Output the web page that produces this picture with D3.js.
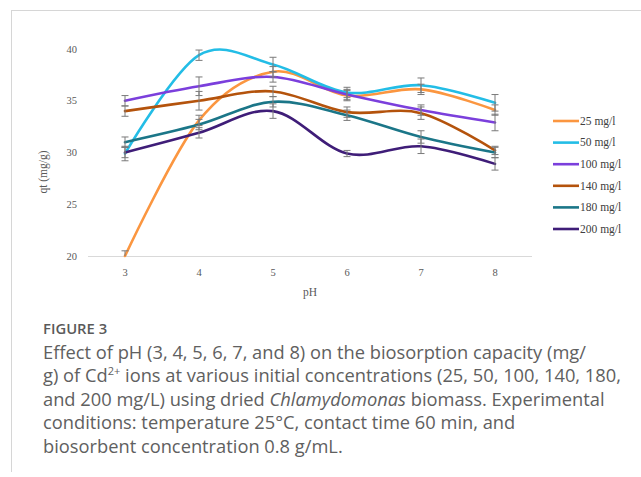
<!DOCTYPE html>
<html>
<head>
<meta charset="utf-8">
<script src="https://cdn.jsdelivr.net/npm/d3@7"></script>
<style>
  html, body { margin: 0; padding: 0; background: #fff; }
  svg { display: block; }
</style>
</head>
<body>
<svg id="chart" width="641" height="477"></svg>
<script>
// pH levels tested
const phValues = [3, 4, 5, 6, 7, 8];

// Initial Cd2+ concentrations (legend labels)
const seriesNames = ["25 mg/l", "50 mg/l", "100 mg/l", "140 mg/l", "180 mg/l", "200 mg/l"];
const seriesColors = ["#fb9640", "#23bde6", "#7b3fdc", "#b4530c", "#1b7688", "#3f1d78"];

// Biosorption capacity qt (mg/g) for each concentration, at pH 3..8
const qt25  = [20.0, 33.1, 37.8, 35.5, 36.1, 34.1];
const qt50  = [29.9, 39.4, 38.5, 35.8, 36.5, 34.8];
const qt100 = [35.0, 36.4, 37.3, 35.6, 34.1, 32.9];
const qt140 = [34.0, 35.0, 35.9, 33.9, 33.8, 30.2];
const qt180 = [31.0, 32.7, 34.9, 33.6, 31.5, 30.0];
const qt200 = [30.0, 31.9, 34.0, 29.9, 30.6, 28.9];

// Standard deviations (error bars)
const sd25  = [0.5, 0.5, 0.5, 0.5, 0.5, 0.5];
const sd50  = [0.7, 0.5, 0.7, 0.5, 0.7, 0.8];
const sd100 = [0.5, 0.9, 0.5, 0.5, 0.5, 0.8];
const sd140 = [0.5, 0.9, 0.5, 0.5, 0.6, 0.4];
const sd180 = [0.5, 0.5, 0.5, 0.5, 0.6, 0.5];
const sd200 = [0.5, 0.5, 0.7, 0.3, 0.7, 0.6];

const yTicks = [20, 25, 30, 35, 40];

const seriesValues = [qt25, qt50, qt100, qt140, qt180, qt200];
const seriesSd = [sd25, sd50, sd100, sd140, sd180, sd200];

const series = seriesNames.map((name, i) => ({
  name,
  color: seriesColors[i],
  points: phValues.map((ph, j) => ({ ph, v: seriesValues[i][j], sd: seriesSd[i][j] }))
}));

const svg = d3.select("#chart");

// Outer frame (top and left rules)
svg.append("line").attr("x1", 11).attr("x2", 641).attr("y1", 10.5).attr("y2", 10.5)
  .attr("stroke", "#d6d6d6").attr("stroke-width", 1);
svg.append("line").attr("x1", 11.5).attr("x2", 11.5).attr("y1", 10).attr("y2", 472)
  .attr("stroke", "#d6d6d6").attr("stroke-width", 1);

const x = d3.scaleLinear().domain([2.5, 8.5]).range([88, 532]);
const y = d3.scaleLinear().domain([20, 40]).range([256, 49]);

const serif = "'Liberation Serif', 'DejaVu Serif', serif";

// X axis baseline
svg.append("line").attr("x1", x(2.5)).attr("x2", x(8.5)).attr("y1", y(20) + 0.5).attr("y2", y(20) + 0.5)
  .attr("stroke", "#d9d9d9").attr("stroke-width", 1);

// X tick labels
svg.append("g").selectAll("text").data(phValues).join("text")
  .attr("x", d => x(d)).attr("y", 276)
  .attr("text-anchor", "middle")
  .attr("font-family", serif).attr("font-size", 10.5).attr("fill", "#595959")
  .text(d => d);

// Y tick labels
svg.append("g").selectAll("text").data(yTicks).join("text")
  .attr("x", 77).attr("y", d => y(d) + 3.5)
  .attr("text-anchor", "end")
  .attr("font-family", serif).attr("font-size", 10.5).attr("fill", "#595959")
  .text(d => d);

// Axis titles
svg.append("text").attr("x", 310).attr("y", 296)
  .attr("text-anchor", "middle").attr("font-family", serif).attr("font-size", 11.5).attr("fill", "#595959")
  .text("pH");
svg.append("text").attr("transform", "translate(47,172) rotate(-90)")
  .attr("text-anchor", "middle").attr("font-family", serif).attr("font-size", 11.5).attr("fill", "#595959")
  .text("qt (mg/g)");

// Smoothed series lines
const line = d3.line()
  .x(d => x(d.ph)).y(d => y(d.v))
  .curve(d3.curveCatmullRom.alpha(0));

svg.append("g").selectAll("path").data(series).join("path")
  .attr("d", d => line(d.points))
  .attr("fill", "none")
  .attr("stroke", d => d.color)
  .attr("stroke-width", 2.6)
  .attr("stroke-linecap", "round");

// Error bars
const capW = 3.5;
const eb = svg.append("g").attr("stroke", "#7a7a7a").attr("stroke-width", 1).attr("fill", "none");
series.forEach(s => {
  s.points.forEach(p => {
    const cx = x(p.ph);
    const top = y(p.v + p.sd), bot = y(Math.max(20, p.v - p.sd));
    eb.append("line").attr("x1", cx).attr("x2", cx).attr("y1", top).attr("y2", bot);
    eb.append("line").attr("x1", cx - capW).attr("x2", cx + capW).attr("y1", top).attr("y2", top);
    if (p.v - p.sd >= 20) {
      eb.append("line").attr("x1", cx - capW).attr("x2", cx + capW).attr("y1", bot).attr("y2", bot);
    }
  });
});

// Legend
const legend = svg.append("g").selectAll("g").data(series).join("g")
  .attr("transform", (d, i) => `translate(553, ${121 + i * 21.6})`);
legend.append("line").attr("x1", 0).attr("x2", 26).attr("y1", 0).attr("y2", 0)
  .attr("stroke", d => d.color).attr("stroke-width", 2.6);
legend.append("text").attr("x", 27).attr("y", 3.8)
  .attr("font-family", serif).attr("font-size", 11.5).attr("fill", "#404040")
  .text(d => d.name);

// Caption
const sans = "'Open Sans', 'Noto Sans', sans-serif";
svg.append("text").attr("x", 43).attr("y", 334)
  .attr("font-family", sans).attr("font-size", 14.8).attr("font-weight", 600).attr("fill", "#5a5a5a")
  .text("FIGURE 3");

const cap = svg.append("text").attr("font-family", sans).attr("font-size", 18.3).attr("fill", "#606060");
const lineY = [358.5, 382, 405.5, 429, 452.5];
cap.append("tspan").attr("x", 43).attr("y", lineY[0])
  .text("Effect of pH (3, 4, 5, 6, 7, and 8) on the biosorption capacity (mg/");
const l2 = cap.append("tspan").attr("x", 43).attr("y", lineY[1]);
l2.append("tspan").text("g) of Cd");
l2.append("tspan").attr("dy", -7).attr("font-size", 11).text("2+");
l2.append("tspan").attr("dy", 7).text(" ions at various initial concentrations (25, 50, 100, 140, 180,");
const l3 = cap.append("tspan").attr("x", 43).attr("y", lineY[2]);
l3.append("tspan").text("and 200 mg/L) using dried ");
l3.append("tspan").attr("font-style", "italic").text("Chlamydomonas");
l3.append("tspan").text(" biomass. Experimental");
cap.append("tspan").attr("x", 43).attr("y", lineY[3])
  .text("conditions: temperature 25°C, contact time 60 min, and");
cap.append("tspan").attr("x", 43).attr("y", lineY[4])
  .text("biosorbent concentration 0.8 g/mL.");
</script>
</body>
</html>
